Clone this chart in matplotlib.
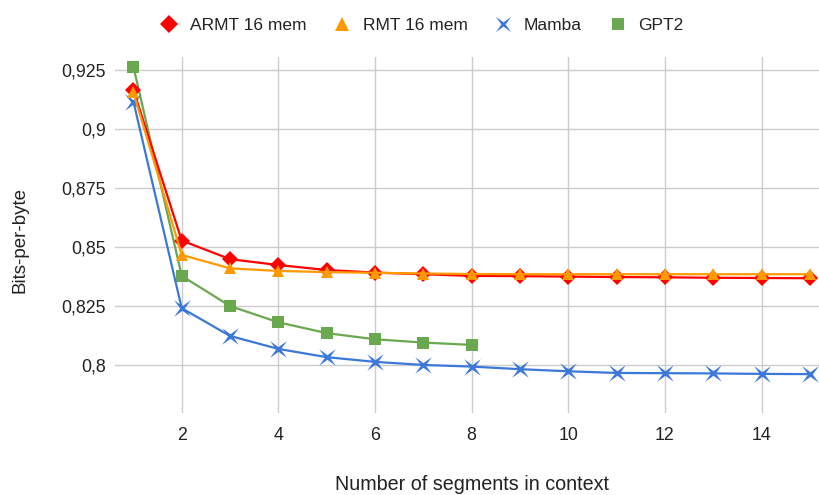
import matplotlib
matplotlib.use("Agg")
import matplotlib.pyplot as plt
from matplotlib.path import Path
from matplotlib.lines import Line2D
from matplotlib.ticker import FixedLocator, FuncFormatter

plt.rcParams['font.family'] = ['Liberation Sans', 'DejaVu Sans']

segments = list(range(1, 16))
armt = [0.9167, 0.8528, 0.8449, 0.8424, 0.8403, 0.8392, 0.8385, 0.8378,
        0.8377, 0.8375, 0.8373, 0.8372, 0.8370, 0.8369, 0.8368]
rmt = [0.9157, 0.8467, 0.8410, 0.8399, 0.8394, 0.8391, 0.8388, 0.8386,
       0.8385, 0.8385, 0.8385, 0.8385, 0.8385, 0.8385, 0.8385]
mamba = [0.9118, 0.8241, 0.8123, 0.8068, 0.8033, 0.8013, 0.8000, 0.7993,
         0.7982, 0.7973, 0.7966, 0.7965, 0.7964, 0.7962, 0.7961]
gpt2_x = list(range(1, 9))
gpt2 = [0.9266, 0.8378, 0.8250, 0.8181, 0.8135, 0.8109, 0.8095, 0.8085]

y_ticks = [0.8, 0.825, 0.85, 0.875, 0.9, 0.925]
x_ticks = [2, 4, 6, 8, 10, 12, 14]

names = ["ARMT 16 mem", "RMT 16 mem", "Mamba", "GPT2"]
colors = ["#ff0000", "#ff9900", "#3c78d8", "#6aa84f"]

# four-pointed star rotated 45 deg (Sheets-style "x")
r = 0.28
star = Path([(1, 1), (0, r), (-1, 1), (-r, 0), (-1, -1), (0, -r), (1, -1), (r, 0), (1, 1)],
            [Path.MOVETO] + [Path.LINETO] * 7 + [Path.CLOSEPOLY])

fig = plt.figure(figsize=(8.19, 4.95), dpi=100)
ax = fig.add_axes([115 / 819, 1 - 413 / 495, (819 - 115) / 819, (413 - 57) / 495])

lw = 1.6
ax.plot(segments, armt, color=colors[0], lw=lw, marker='D', ms=7.8, mew=0, zorder=5)
ax.plot(segments, rmt, color=colors[1], lw=lw, marker='^', ms=9, mew=0, zorder=6)
ax.plot(segments, mamba, color=colors[2], lw=lw, marker=star, ms=12, mew=0, zorder=4)
ax.plot(gpt2_x, gpt2, color=colors[3], lw=lw, marker='s', ms=9, mew=0, zorder=3)

ax.set_xlim(0.619, 15.19)
ax.set_ylim(0.7796, 0.9307)
ax.xaxis.set_major_locator(FixedLocator(x_ticks))
ax.yaxis.set_major_locator(FixedLocator(y_ticks))
ax.yaxis.set_major_formatter(FuncFormatter(lambda v, p: ('%g' % round(v, 3)).replace('.', ',')))
ax.grid(True, color='#cccccc', lw=1.0)
ax.set_axisbelow(True)
for s in ax.spines.values():
    s.set_visible(False)
ax.tick_params(axis='both', length=0, labelsize=12.8, colors='#222222')
ax.tick_params(axis='y', pad=6.5)
ax.tick_params(axis='x', pad=10)

fig.text(20 / 819, 1 - 240 / 495, "Bits-per-byte", rotation=90, ha='center', va='center',
         fontsize=13.5, color='#222222')
fig.text(472 / 819, 1 - 484 / 495, "Number of segments in context", ha='center', va='center',
         fontsize=14.2, color='#222222')

lh = [Line2D([], [], ls='none', marker='D', ms=9, color=colors[0], mew=0),
      Line2D([], [], ls='none', marker='^', ms=10, color=colors[1], mew=0),
      Line2D([], [], ls='none', marker=star, ms=11, color=colors[2], mew=0),
      Line2D([], [], ls='none', marker='s', ms=9, color=colors[3], mew=0)]
leg = fig.legend(lh, names, loc='center', bbox_to_anchor=(422 / 819, 1 - 25 / 495), ncol=4,
                 frameon=False, fontsize=12.5, handlelength=1.0, handletextpad=0.7,
                 columnspacing=1.55, borderpad=0)
for t in leg.get_texts():
    t.set_color('#222222')

fig.savefig("out.png", dpi=100)
